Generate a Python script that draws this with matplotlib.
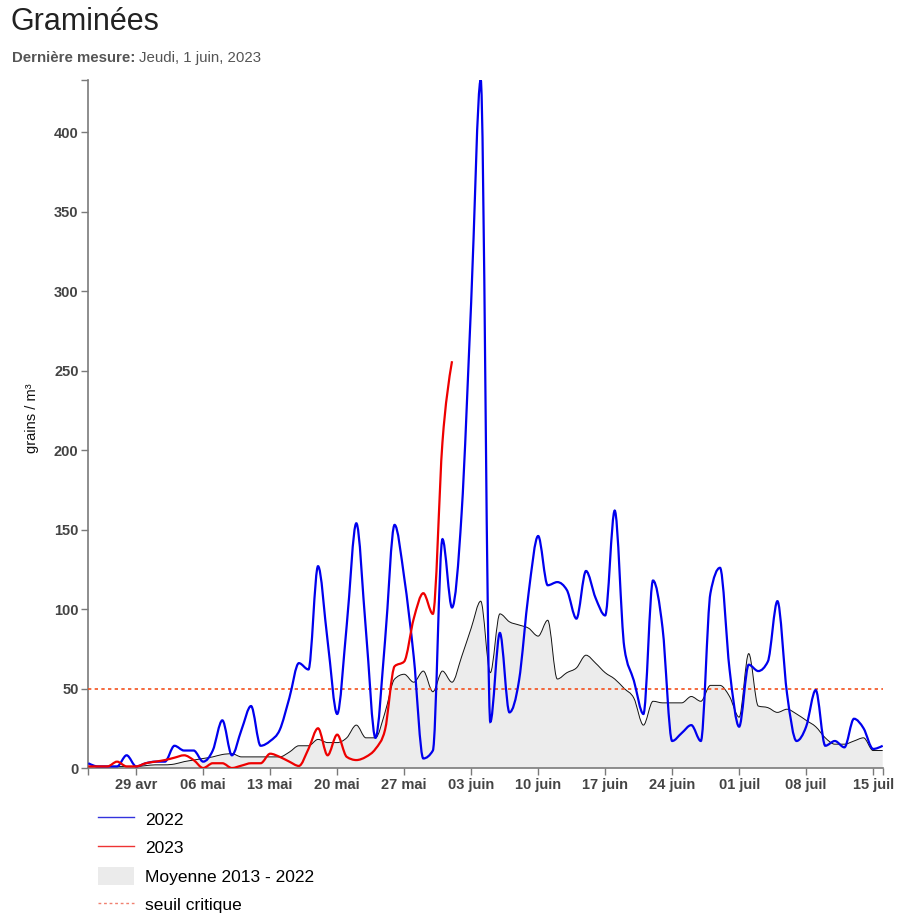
import numpy as np
import pandas as pd
import matplotlib
matplotlib.use('Agg')
import matplotlib.pyplot as plt
import matplotlib.dates as mdates
from matplotlib.path import Path
from matplotlib.patches import PathPatch, Patch
from matplotlib.lines import Line2D

plt.rcParams['font.family'] = ['Liberation Sans', 'DejaVu Sans']

# daily grains / m3, starting 24 avr
start_day = '2023-04-24'
pollen_2022 = [3, 1, 1, 1, 8, 1, 3, 4, 4, 14,
               11, 11, 4, 11, 30, 8, 24, 39, 14, 17,
               24, 44, 66, 62, 127, 80, 34, 90, 154, 87,
               19, 80, 153, 120, 70, 6, 11, 144, 101, 160,
               293, 433, 29, 85, 35, 55, 110, 146, 115, 117,
               112, 94, 124, 107, 96, 162, 76, 55, 34, 118,
               88, 17, 22, 27, 17, 110, 126, 62, 26, 65,
               61, 67, 105, 47, 17, 26, 49, 14, 17, 13,
               31, 25, 12, 14]
pollen_2023 = [1, 1, 1, 4, 1, 1, 3, 4, 5, 6.5,
               8, 5, 0, 3, 3, 0, 1.5, 3, 3, 9,
               7, 4, 1.3, 12, 25, 8, 21, 7, 5, 7,
               12, 24, 64, 67, 94, 110, 97, 205, 256]
moyenne = [1, 1, 1, 1, 1, 1, 1.5, 2, 2, 2.5,
           4, 5, 6, 7, 8.5, 9, 7, 7, 7, 7,
           7, 10, 14, 14, 18, 16, 16, 19, 27, 19,
           19, 35, 56, 59, 54, 61, 48, 61, 54, 70,
           88, 105, 60, 97, 92, 90, 88, 83, 93, 56,
           60, 63, 71, 66, 60, 56, 50, 44, 27, 42,
           41, 41, 41, 45, 42, 52, 52, 45, 32, 72,
           39, 38, 35, 37, 34, 30, 26, 19, 15, 15,
           17, 19, 11, 11]
seuil = 50

tick_dates = ['2023-04-29', '2023-05-06', '2023-05-13', '2023-05-20', '2023-05-27',
              '2023-06-03', '2023-06-10', '2023-06-17', '2023-06-24', '2023-07-01',
              '2023-07-08', '2023-07-15']
tick_labels = ['29 avr', '06 mai', '13 mai', '20 mai', '27 mai', '03 juin',
               '10 juin', '17 juin', '24 juin', '01 juil', '08 juil', '15 juil']


def monotone_path(x, y, base=None):
    # same idea as d3.curveMonotoneX, as cubic bezier segments
    x = np.asarray(x, float)
    y = np.asarray(y, float)
    h = np.diff(x)
    s = np.diff(y) / h
    n = len(x)
    t = np.zeros(n)
    for i in range(1, n - 1):
        p = (s[i - 1] * h[i] + s[i] * h[i - 1]) / (h[i - 1] + h[i])
        t[i] = (np.sign(s[i - 1]) + np.sign(s[i])) * min(abs(s[i - 1]), abs(s[i]), 0.5 * abs(p))
    t[0] = (3 * s[0] - t[1]) / 2
    t[-1] = (3 * s[-1] - t[-2]) / 2
    verts = [(x[0], y[0])]
    codes = [Path.MOVETO]
    for i in range(n - 1):
        d = h[i] / 3
        verts += [(x[i] + d, y[i] + d * t[i]), (x[i + 1] - d, y[i + 1] - d * t[i + 1]), (x[i + 1], y[i + 1])]
        codes += [Path.CURVE4] * 3
    if base is not None:
        verts += [(x[-1], base), (x[0], base), (x[0], y[0])]
        codes += [Path.LINETO, Path.LINETO, Path.CLOSEPOLY]
    return Path(verts, codes)


days = mdates.date2num(pd.date_range(start_day, periods=len(pollen_2022)))
days_2023 = days[:len(pollen_2023)]

fig = plt.figure(figsize=(9.07, 9.19), dpi=100)
ax = fig.add_axes([0.0974, 0.1643, 0.8758, 0.7487])

ax.add_patch(PathPatch(monotone_path(days, moyenne, base=0), facecolor='#ececec', edgecolor='none', zorder=1))
ax.add_patch(PathPatch(monotone_path(days, moyenne), facecolor='none', edgecolor='#111111', lw=0.7, zorder=2))
ax.axhline(seuil, color='#f4511e', lw=1.2, linestyle=(0, (2, 2)), zorder=3)
ax.add_patch(PathPatch(monotone_path(days, pollen_2022), facecolor='none', edgecolor='#0000ee', lw=1.6, zorder=4))
ax.add_patch(PathPatch(monotone_path(days_2023, pollen_2023), facecolor='none', edgecolor='#ee0000', lw=1.6, zorder=5))

ax.set_xlim(days[0], days[-1])
ax.set_ylim(0, 433)

ax.set_xticks(mdates.date2num(pd.to_datetime(tick_dates)))
ax.set_xticklabels(tick_labels)
ax.set_xticks([days[0], days[-1]], minor=True)
ax.set_yticks(np.arange(0, 401, 50))
ax.set_yticks([433], minor=True)

for side in ['top', 'right']:
    ax.spines[side].set_visible(False)
for side in ['left', 'bottom']:
    ax.spines[side].set_color('#7a7a7a')
    ax.spines[side].set_linewidth(1.2)
ax.tick_params(which='both', length=5, width=1, color='#7a7a7a', labelcolor='#444444', labelsize=10.5)
ax.tick_params(axis='x', pad=2)
ax.tick_params(axis='y', pad=2)
for lab in ax.get_xticklabels() + ax.get_yticklabels():
    lab.set_fontweight('bold')

fig.text(32 / 907, 1 - 418 / 919, 'grains / m³', rotation=90, ha='center', va='center', fontsize=10.5, color='#111111')

fig.text(11 / 907, 1 - 7 / 919, 'Graminées', ha='left', va='top', fontsize=22, color='#222222')
sub = fig.text(12 / 907, 1 - 58 / 919, 'Dernière mesure:', ha='left', va='center', fontsize=10.8,
               fontweight='bold', color='#555555')
renderer = fig.canvas.get_renderer()
bb = sub.get_window_extent(renderer)
fig.text((bb.x1 + 4) / 907, 1 - 58 / 919, 'Jeudi, 1 juin, 2023', ha='left', va='center', fontsize=10.8, color='#555555')

handles = [Line2D([], [], color='#3333dd', lw=1),
           Line2D([], [], color='#ee3333', lw=1),
           Patch(facecolor='#ebebeb', edgecolor='none'),
           Line2D([], [], color='#f08070', lw=1, linestyle=(0, (2, 2)))]
labels = ['2022', '2023', 'Moyenne 2013 - 2022', 'seuil critique']
fig.legend(handles, labels, loc='upper left', bbox_to_anchor=(91 / 907, 1 - 803 / 919), frameon=False,
           fontsize=12.5, handlelength=2.1, handleheight=1.2, handletextpad=0.6, labelspacing=0.62,
           borderaxespad=0)

fig.savefig('out.png', dpi=100)
